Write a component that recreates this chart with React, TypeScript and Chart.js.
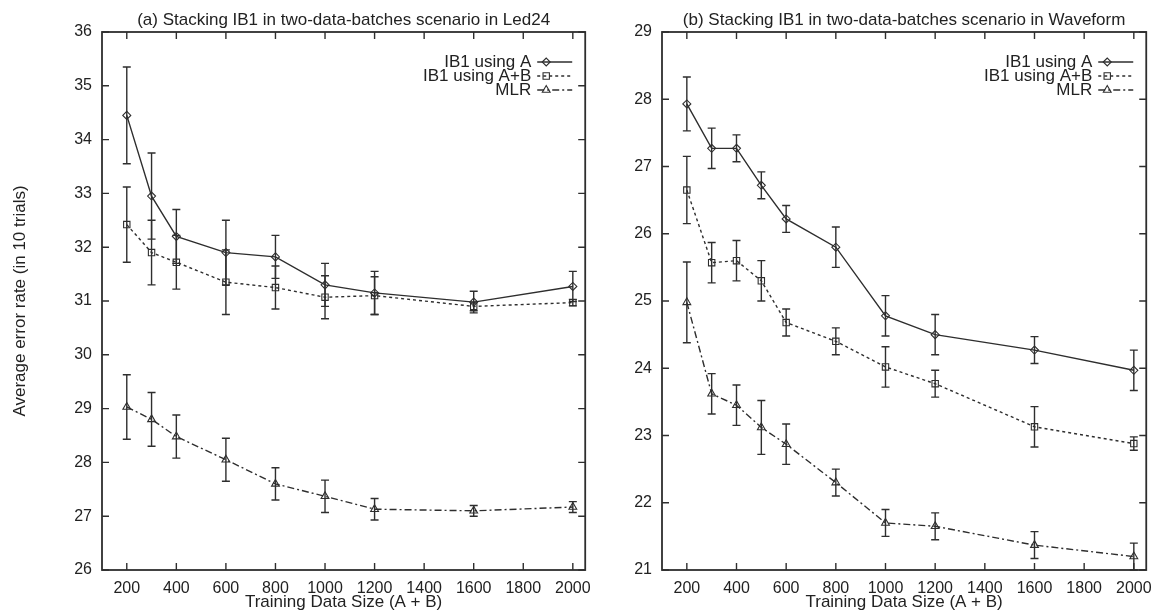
import React, { useEffect, useRef } from "react";
import { Chart, registerables } from "chart.js";
import { drawPoint } from "chart.js/helpers";

Chart.register(...registerables);

// ---------- data ----------
const seriesNames = ["IB1 using A", "IB1 using A+B", "MLR"];
const xTicks = [200, 400, 600, 800, 1000, 1200, 1400, 1600, 1800, 2000];

// (a) Led24
const ledX = [200, 300, 400, 600, 800, 1000, 1200, 1600, 2000];
const ledA = [34.45, 32.95, 32.2, 31.9, 31.82, 31.3, 31.15, 30.98, 31.27];
const ledAErr = [0.9, 0.8, 0.5, 0.6, 0.4, 0.4, 0.4, 0.2, 0.28];
const ledAB = [32.42, 31.9, 31.72, 31.35, 31.25, 31.07, 31.1, 30.9, 30.97];
const ledABErr = [0.7, 0.6, 0.5, 0.6, 0.4, 0.4, 0.35, 0.08, 0.06];
const ledMLR = [29.03, 28.8, 28.48, 28.05, 27.6, 27.37, 27.13, 27.1, 27.17];
const ledMLRErr = [0.6, 0.5, 0.4, 0.4, 0.3, 0.3, 0.2, 0.1, 0.1];
const ledYTicks = [26, 27, 28, 29, 30, 31, 32, 33, 34, 35, 36];

// (b) Waveform
const waveX = [200, 300, 400, 500, 600, 800, 1000, 1200, 1600, 2000];
const waveA = [27.93, 27.27, 27.27, 26.72, 26.22, 25.8, 24.78, 24.5, 24.27, 23.97];
const waveAErr = [0.4, 0.3, 0.2, 0.2, 0.2, 0.3, 0.3, 0.3, 0.2, 0.3];
const waveAB = [26.65, 25.57, 25.6, 25.3, 24.68, 24.4, 24.02, 23.77, 23.13, 22.88];
const waveABErr = [0.5, 0.3, 0.3, 0.3, 0.2, 0.2, 0.3, 0.2, 0.3, 0.1];
const waveMLR = [24.98, 23.62, 23.45, 23.12, 22.87, 22.3, 21.7, 21.65, 21.37, 21.2];
const waveMLRErr = [0.6, 0.3, 0.3, 0.4, 0.3, 0.2, 0.2, 0.2, 0.2, 0.2];
const waveYTicks = [21, 22, 23, 24, 25, 26, 27, 28, 29];

const titleA = "(a) Stacking IB1 in two-data-batches scenario in Led24";
const titleB = "(b) Stacking IB1 in two-data-batches scenario in Waveform";
const xTitle = "Training Data Size (A + B)";
const yTitle = "Average error rate (in 10 trials)";

// ---------- styles ----------
const FONT = "'Liberation Sans', Arial, Helvetica, sans-serif";
const TEXT = "#222";
const LINE = "#2e2e2e";
const styles = [
  { dash: [], pointStyle: "rectRot", radius: 4 },
  { dash: [3, 3], pointStyle: "rect", radius: 4.5 },
  { dash: [7, 3, 2, 3], pointStyle: "triangle", radius: 4.5 },
];

const errorBarPlugin = {
  id: "errBars",
  afterDatasetsDraw(chart: any) {
    const { ctx } = chart;
    const xs = chart.scales.x;
    const ys = chart.scales.y;
    chart.data.datasets.forEach((ds: any) => {
      ctx.save();
      ctx.strokeStyle = LINE;
      ctx.lineWidth = 1.4;
      ctx.setLineDash([]);
      ds.data.forEach((p: any, i: number) => {
        const e = ds.errors[i];
        const px = xs.getPixelForValue(p.x);
        const yl = ys.getPixelForValue(p.y - e);
        const yh = ys.getPixelForValue(p.y + e);
        ctx.beginPath();
        ctx.moveTo(px, yl);
        ctx.lineTo(px, yh);
        ctx.moveTo(px - 4, yl);
        ctx.lineTo(px + 4, yl);
        ctx.moveTo(px - 4, yh);
        ctx.lineTo(px + 4, yh);
        ctx.stroke();
      });
      ctx.restore();
    });
  },
};

const framePlugin = {
  id: "gpFrame",
  afterDraw(chart: any) {
    const { ctx, chartArea: a } = chart;
    const xs = chart.scales.x;
    const ys = chart.scales.y;
    ctx.save();
    ctx.strokeStyle = LINE;
    ctx.lineWidth = 1.8;
    ctx.strokeRect(a.left, a.top, a.right - a.left, a.bottom - a.top);
    ctx.lineWidth = 1.4;
    const tl = 7;
    ctx.beginPath();
    xs.ticks.forEach((t: any) => {
      const px = xs.getPixelForValue(t.value);
      ctx.moveTo(px, a.bottom);
      ctx.lineTo(px, a.bottom - tl);
      ctx.moveTo(px, a.top);
      ctx.lineTo(px, a.top + tl);
    });
    ys.ticks.forEach((t: any) => {
      const py = ys.getPixelForValue(t.value);
      ctx.moveTo(a.left, py);
      ctx.lineTo(a.left + tl, py);
      ctx.moveTo(a.right, py);
      ctx.lineTo(a.right - tl, py);
    });
    ctx.stroke();
    ctx.restore();
  },
};

const legendPlugin = {
  id: "gpLegend",
  afterDraw(chart: any) {
    const { ctx, chartArea: a } = chart;
    chart.data.datasets.forEach((ds: any, i: number) => {
      const y = a.top + 30 + i * 14;
      ctx.save();
      ctx.font = `17px ${FONT}`;
      ctx.fillStyle = TEXT;
      ctx.textAlign = "right";
      ctx.textBaseline = "middle";
      ctx.fillText(ds.label, a.right - 54, y);
      ctx.strokeStyle = LINE;
      ctx.lineWidth = 1.3;
      ctx.setLineDash(ds.borderDash || []);
      ctx.beginPath();
      ctx.moveTo(a.right - 48, y);
      ctx.lineTo(a.right - 13, y);
      ctx.stroke();
      ctx.setLineDash([]);
      ctx.strokeStyle = LINE;
      ctx.fillStyle = "rgba(0,0,0,0)";
      ctx.lineWidth = 1.1;
      drawPoint(ctx, { pointStyle: ds.pointStyle, radius: ds.pointRadius, borderWidth: 1.1, rotation: 0 } as any, a.right - 39, y);
      ctx.restore();
    });
  },
};

type PanelProps = {
  title: string;
  xs: number[];
  series: number[][];
  errs: number[][];
  yMin: number;
  yMax: number;
  yTicks: number[];
  showYTitle: boolean;
  yAxisWidth: number;
  width: number;
  left: number;
};

function Panel(p: PanelProps) {
  const ref = useRef<HTMLCanvasElement | null>(null);
  useEffect(() => {
    if (!ref.current) return;
    const datasets = p.series.map((vals, i) => ({
      label: seriesNames[i],
      data: p.xs.map((x, j) => ({ x, y: vals[j] })),
      errors: p.errs[i],
      borderColor: LINE,
      borderWidth: 1.4,
      borderDash: styles[i].dash,
      pointStyle: styles[i].pointStyle,
      pointRadius: styles[i].radius,
      pointBorderColor: LINE,
      pointBackgroundColor: "rgba(0,0,0,0)",
      pointBorderWidth: 1.1,
      tension: 0,
      fill: false,
    }));
    const chart = new Chart(ref.current, {
      type: "line",
      data: { datasets } as any,
      plugins: [errorBarPlugin, framePlugin, legendPlugin],
      options: {
        animation: false,
        responsive: false,
        maintainAspectRatio: false,
        layout: { padding: { left: 0, right: 10, top: 0, bottom: 0 } },
        plugins: {
          legend: { display: false },
          tooltip: { enabled: false },
          title: {
            display: true,
            fullSize: false,
            text: p.title,
            color: TEXT,
            font: { family: FONT, size: 17, weight: "normal" },
            padding: { top: 10, bottom: 1.6 },
          },
        },
        scales: {
          x: {
            type: "linear",
            min: 100,
            max: 2050,
            afterBuildTicks: (s: any) => {
              s.ticks = xTicks.map((v) => ({ value: v }));
            },
            afterFit: (s: any) => {
              s.height = 44;
            },
            grid: { display: false, drawTicks: false },
            border: { display: false },
            ticks: {
              color: TEXT,
              font: { family: FONT, size: 16 },
              padding: 9,
              maxRotation: 0,
              autoSkip: false,
              callback: (v: any) => String(v),
            },
            title: {
              display: true,
              text: xTitle,
              color: TEXT,
              font: { family: FONT, size: 17 },
              padding: { top: 0, bottom: 1 },
            },
          },
          y: {
            type: "linear",
            min: p.yMin,
            max: p.yMax,
            afterBuildTicks: (s: any) => {
              s.ticks = p.yTicks.map((v) => ({ value: v }));
            },
            afterFit: (s: any) => {
              s.width = p.yAxisWidth;
            },
            grid: { display: false, drawTicks: false },
            border: { display: false },
            ticks: {
              color: TEXT,
              font: { family: FONT, size: 16 },
              padding: 10,
              autoSkip: false,
              callback: (v: any) => String(v),
            },
            title: {
              display: p.showYTitle,
              text: yTitle,
              color: TEXT,
              font: { family: FONT, size: 17 },
              padding: { top: 10, bottom: 0 },
            },
          },
        },
      } as any,
    });
    return () => chart.destroy();
  }, []);
  return (
    <canvas
      ref={ref}
      width={p.width}
      height={614}
      style={{ position: "absolute", left: p.left, top: 0, width: p.width, height: 614 }}
    />
  );
}

export default function App() {
  return (
    <div style={{ position: "fixed", left: 0, top: 0, width: 1161, height: 614, background: "#fff" }}>
      <Panel
        title={titleA}
        xs={ledX}
        series={[ledA, ledAB, ledMLR]}
        errs={[ledAErr, ledABErr, ledMLRErr]}
        yMin={26}
        yMax={36}
        yTicks={ledYTicks}
        showYTitle={true}
        yAxisWidth={102}
        width={600}
        left={0}
      />
      <Panel
        title={titleB}
        xs={waveX}
        series={[waveA, waveAB, waveMLR]}
        errs={[waveAErr, waveABErr, waveMLRErr]}
        yMin={21}
        yMax={29}
        yTicks={waveYTicks}
        showYTitle={false}
        yAxisWidth={62}
        width={561}
        left={600}
      />
    </div>
  );
}
